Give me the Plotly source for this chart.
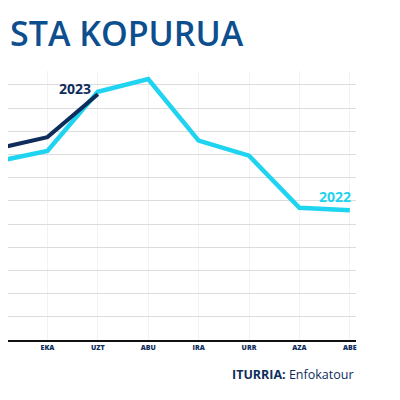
import plotly.graph_objects as go

# hilabeteak (ekaina aurretik moztuta dago irudia)
hilabeteak = ['MAI', 'EKA', 'UZT', 'ABU', 'IRA', 'URR', 'AZA', 'ABE']
balioak_2022 = [7.7, 8.15, 10.7, 11.25, 8.6, 7.95, 5.7, 5.6]
balioak_2023 = [8.25, 8.75, 10.6]

NAVY = '#0e2d5c'
CYAN = '#1fd4f0'

x_idx = list(range(len(hilabeteak)))

fig = go.Figure()
fig.add_trace(go.Scatter(
    x=x_idx, y=balioak_2022, mode='lines',
    line=dict(color=CYAN, width=4.5), name='2022'
))
fig.add_trace(go.Scatter(
    x=x_idx[:len(balioak_2023)], y=balioak_2023, mode='lines',
    line=dict(color=NAVY, width=4), name='2023'
))

# orria 8px-ko marjinarekin irekitzen da, beraz irudia 392x392
fig.update_layout(
    width=392, height=392,
    margin=dict(l=0, r=44, t=63, b=60),
    paper_bgcolor='white',
    plot_bgcolor='white',
    showlegend=False,
    xaxis=dict(
        range=[0.218, 7.123],
        tickmode='array', tickvals=x_idx, ticktext=hilabeteak,
        tickfont=dict(family='Open Sans', size=7, color=NAVY, weight=800),
        showgrid=True, gridcolor='#f2f2f2', gridwidth=1,
        showline=True, linecolor='#111111', linewidth=2,
        zeroline=False, ticks='', ticklen=0,
    ),
    yaxis=dict(
        range=[0, 11.6],
        tickmode='linear', tick0=0, dtick=1,
        showticklabels=False,
        showgrid=True, gridcolor='#dcdcdc', gridwidth=1.3,
        zeroline=False,
    ),
    annotations=[
        dict(xref='paper', yref='paper', x=0, y=1.14,
             xanchor='left', yanchor='middle', showarrow=False,
             text='STA KOPURUA',
             font=dict(family='Open Sans', size=34, color='#0d4e8f', weight=600)),
        dict(xref='x', yref='y', x=2, y=balioak_2023[-1],
             xanchor='right', yanchor='middle', xshift=-5, yshift=6,
             showarrow=False, text='<b>2023</b>',
             font=dict(family='Open Sans', size=14, color=NAVY)),
        dict(xref='x', yref='y', x=7, y=balioak_2022[-1],
             xanchor='right', yanchor='middle', xshift=3, yshift=14,
             showarrow=False, text='<b>2022</b>',
             font=dict(family='Open Sans', size=14, color=CYAN)),
        dict(xref='paper', yref='paper', x=1, y=-0.13,
             xanchor='right', yanchor='middle', showarrow=False,
             text='<b>ITURRIA:</b> Enfokatour',
             font=dict(family='Open Sans', size=12.5, color=NAVY)),
    ],
)

fig.write_html('out.html')
